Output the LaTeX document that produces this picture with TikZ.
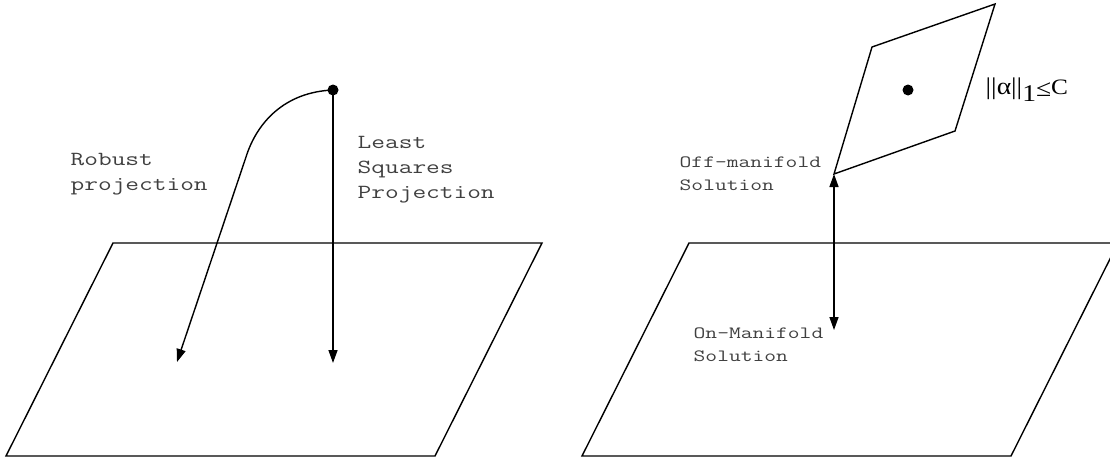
\documentclass[tikz,border=0pt]{standalone}
\usepackage{fontspec}
\usetikzlibrary{arrows.meta}
\newfontfamily\serifont[FakeStretch=1.15]{Liberation Serif}
\newcommand\wl[1]{\scalebox{1.33}[1]{#1}}
\begin{document}
\begin{tikzpicture}[x=1pt,y=-1pt, line width=1.4pt,
  dot/.style={circle,fill=black,inner sep=0pt,minimum size=11pt},
  arr/.style={-{Triangle[length=13pt,width=9pt]}},
  darr/.style={{Triangle[length=13pt,width=9pt]}-{Triangle[length=13pt,width=9pt]}},
  lbl/.style={font=\ttfamily\fontsize{20}{25}\selectfont, align=left, inner sep=0pt, text=black!75},
  slbl/.style={font=\ttfamily\fontsize{17.2}{23}\selectfont, align=left, inner sep=0pt, text=black!75}]
\useasboundingbox (0,0) rectangle (1110,464);
\clip (0,0) rectangle (1110,464);
% planes
\draw (113,243) -- (542,243) -- (435,456) -- (6,456) -- cycle;
\draw (689,243) -- (1118,243) -- (1011,456) -- (582,456) -- cycle;
% left figure
\node[dot] (p) at (333,90) {};
\coordinate (ls) at (333,363);
\coordinate (k) at (246,157);
\coordinate (rp) at (177,362);
\draw[arr] (p.center) -- (ls);
\draw[arr] (p.center) .. controls (285,92) and (257,122) .. (k) -- (rp);
\node[lbl, anchor=west] (rob) at (70,174) {\wl{Robust}\\\wl{projection}};
\node[lbl, anchor=west] (lsq) at (357,170) {\wl{Least}\\\wl{Squares}\\\wl{Projection}};
% right figure
\coordinate (a) at (834,174);
\coordinate (b) at (872,47);
\coordinate (c) at (995,4);
\coordinate (d) at (955,131);
\draw (a) -- (b) -- (c) -- (d) -- cycle;
\node[dot] (q) at (908,90) {};
\coordinate (on) at (834,330);
\draw[darr] (on) -- (a);
\node[slbl, anchor=west] (off) at (679,174) {\wl{Off-manifold}\\\wl{Solution}};
\node[slbl, anchor=west] (onl) at (693,345) {\wl{On-Manifold}\\\wl{Solution}};
\node[anchor=west, inner sep=0pt, font=\serifont\fontsize{24}{24}\selectfont] (nrm) at (985,90)
  {||α||\raisebox{-7pt}{1}\raisebox{-2pt}{≤}{\fontsize{22}{22}\selectfont C}};
\end{tikzpicture}
\end{document}
